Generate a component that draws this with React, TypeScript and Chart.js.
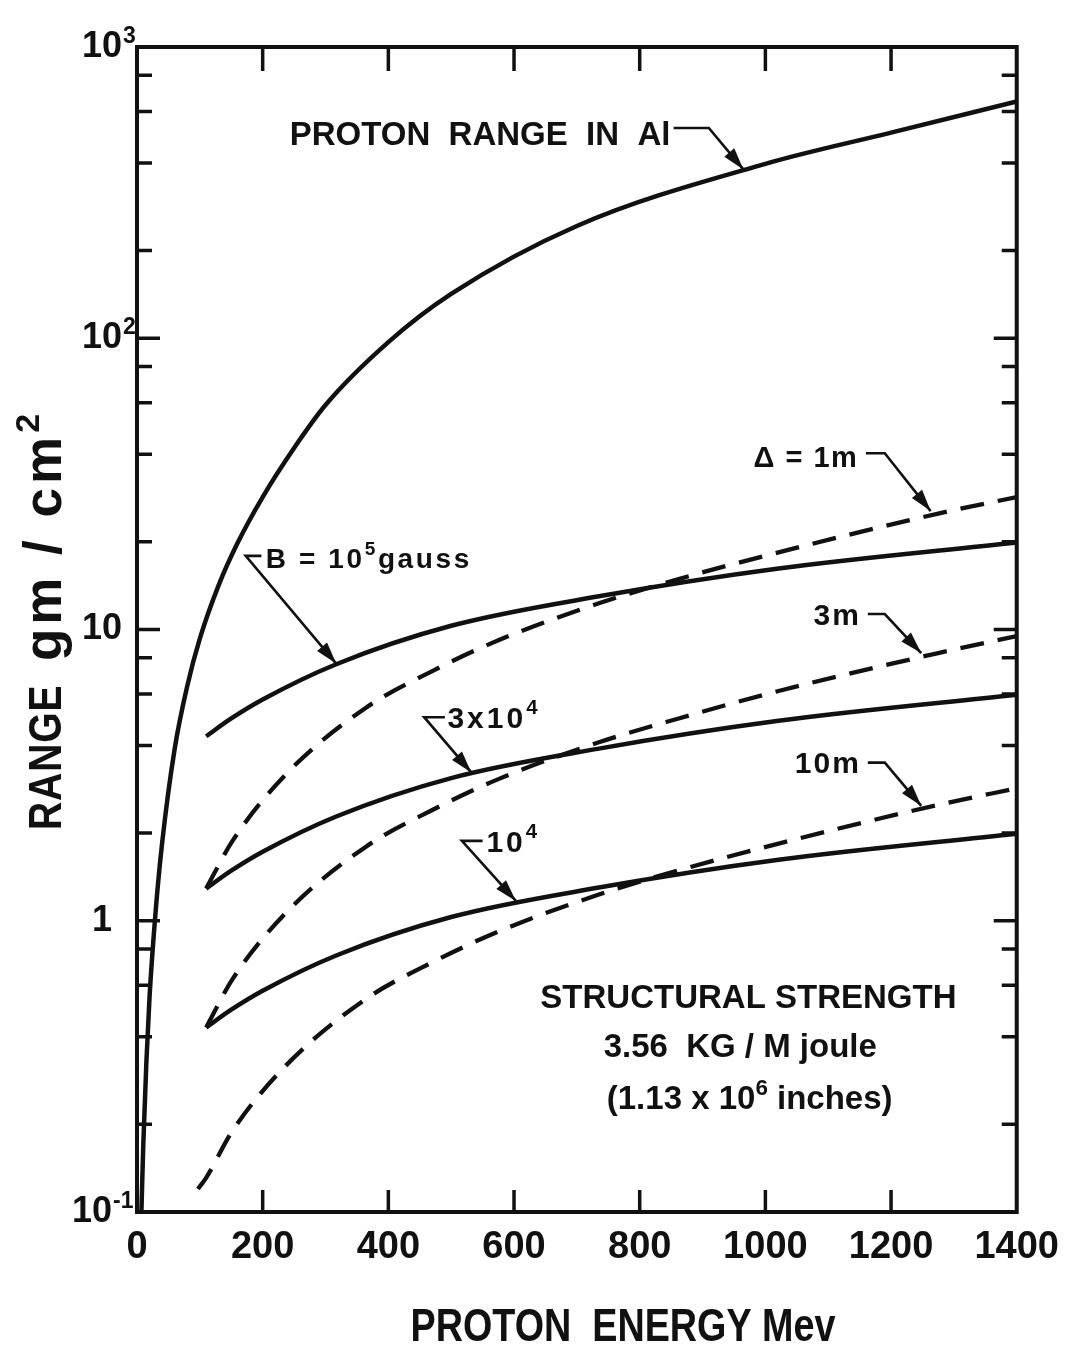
import React, { useEffect, useRef } from 'react';
import { Chart, registerables } from 'chart.js';

Chart.register(...registerables);

// ---------- data ----------
const PROTON_E = [7, 10, 15, 20, 30, 40, 60, 80, 100, 130, 160, 200, 250, 300, 400, 500, 700, 1000, 1200, 1400];
const PROTON_R = [0.1, 0.17, 0.33, 0.55, 1.1, 1.85, 3.9, 6.4, 9.3, 14.2, 19.8, 28.5, 42, 59, 97, 142, 243, 397, 508, 650];

const B_E = [110, 150, 200, 317, 500, 735, 1021, 1400];
const B_1E5_R = [4.3, 4.95, 5.75, 7.6, 10.3, 13.0, 16.2, 19.9];
const B_3E4_R = [1.29, 1.485, 1.725, 2.28, 3.09, 3.9, 4.86, 5.97];
const B_1E4_R = [0.43, 0.495, 0.575, 0.76, 1.03, 1.3, 1.62, 1.99];

const D_E = [110, 152, 238, 365, 470, 576, 735, 862, 1021, 1275, 1400];
const D_1M_R = [1.29, 1.88, 3.2, 5.4, 7.2, 9.2, 12.3, 14.9, 18.4, 25, 28.5];
const D_3M_R = [0.43, 0.63, 1.07, 1.8, 2.4, 3.07, 4.1, 4.95, 6.15, 8.3, 9.5];
const D10_E = [97, 110, 152, 238, 365, 470, 576, 735, 862, 1021, 1275, 1400];
const D_10M_R = [0.12, 0.131, 0.19, 0.32, 0.54, 0.72, 0.92, 1.23, 1.49, 1.84, 2.5, 2.85];

const X_TICKS = [0, 200, 400, 600, 800, 1000, 1200, 1400];
const Y_TICKS = [0.1, 0.2, 0.4, 0.6, 0.8, 1, 2, 4, 6, 8, 10, 20, 40, 60, 80, 100, 200, 400, 600, 800, 1000];
const Y_LABEL_VALUES = [0.1, 1, 10, 100, 1000];
const Y_LABEL_BASES = ['10 ', '1 ', '10', '10', '10'];
const Y_LABEL_EXPS = ['-1', '', '', '2', '3'];

const X_TITLE = 'PROTON  ENERGY Mev';
const Y_TITLE_A = 'RANGE';
const Y_TITLE_B = 'gm / cm';
const Y_TITLE_SUP = '2';

// ---------- styling ----------
const FONT = "'Liberation Sans', Arial, Helvetica, sans-serif";
const INK = '#111111';
const Y_TICK_PAD = 15;

type Seg = { t: string; sup?: boolean; size?: number; sp?: number; sx?: number };
type Note = {
  segs: Seg[];
  x: number;
  y: number;
  align: 'left' | 'right' | 'center';
  size: number;
  sp: number;
  path?: number[][];
};

const NOTES: Note[] = [
  { segs: [{ t: 'PROTON  RANGE  IN  Al' }], x: 243, y: 506, align: 'left', size: 33, sp: 0, path: [[854, 527], [910, 527], [965, 380]] },
  { segs: [{ t: 'Δ = 1m' }], x: 1148, y: 39.3, align: 'right', size: 29, sp: 1.5, path: [[1160, 40.3], [1190, 40.3], [1263, 25.5]] },
  { segs: [{ t: '3m' }], x: 1152, y: 11.3, align: 'right', size: 30, sp: 2, path: [[1163, 11.3], [1190, 11.3], [1248, 8.3]] },
  { segs: [{ t: '10m' }], x: 1152, y: 3.49, align: 'right', size: 30, sp: 2, path: [[1163, 3.49], [1190, 3.49], [1248, 2.48]] },
  { segs: [{ t: 'B = 10' }, { t: '5', sup: true }, { t: 'gauss' }], x: 205, y: 17.6, align: 'left', size: 28, sp: 2.6, path: [[198, 17.9], [173, 17.9], [317, 7.64]] },
  { segs: [{ t: '3x10' }, { t: '4', sup: true }], x: 494, y: 5.0, align: 'left', size: 30, sp: 3, path: [[490, 5.0], [457, 5.0], [532, 3.23]] },
  { segs: [{ t: '10' }, { t: '4', sup: true }], x: 556, y: 1.88, align: 'left', size: 30, sp: 3, path: [[550, 1.88], [517, 1.88], [603, 1.17]] },
  { segs: [{ t: 'STRUCTURAL STRENGTH' }], x: 973, y: 0.552, align: 'center', size: 33, sp: 0 },
  { segs: [{ t: '3.56  KG / M joule' }], x: 960, y: 0.375, align: 'center', size: 33, sp: 0 },
  { segs: [{ t: '(1.13 x 10' }, { t: '6', sup: true }, { t: ' inches)' }], x: 975, y: 0.247, align: 'center', size: 33, sp: 0 },
];

function drawRich(
  ctx: CanvasRenderingContext2D,
  segs: Seg[],
  x: number,
  yMid: number,
  size: number,
  align: 'left' | 'right' | 'center',
  sp: number,
  sx = 1,
  weight = 'bold',
) {
  const c: any = ctx;
  const sizeOf = (s: Seg) => (s.size ?? size) * (s.sup ? 0.68 : 1);
  const widths = segs.map((s) => {
    ctx.font = `${weight} ${sizeOf(s)}px ${FONT}`;
    c.letterSpacing = `${s.sp ?? sp}px`;
    return ctx.measureText(s.t).width * (s.sx ?? sx);
  });
  const total = widths.reduce((a, b) => a + b, 0);
  let cx = align === 'left' ? x : align === 'right' ? x - total : x - total / 2;
  const base = yMid + size * 0.358;
  ctx.textAlign = 'left';
  ctx.textBaseline = 'alphabetic';
  segs.forEach((s, i) => {
    ctx.font = `${weight} ${sizeOf(s)}px ${FONT}`;
    c.letterSpacing = `${s.sp ?? sp}px`;
    ctx.save();
    ctx.translate(cx, s.sup ? base - (s.size ?? size) * 0.45 : base);
    ctx.scale(s.sx ?? sx, 1);
    ctx.fillText(s.t, 0, 0);
    ctx.restore();
    cx += widths[i];
  });
  c.letterSpacing = '0px';
}

function arrowHead(ctx: CanvasRenderingContext2D, fx: number, fy: number, tx: number, ty: number) {
  const ang = Math.atan2(ty - fy, tx - fx);
  const L = 22;
  const W = 6.5;
  const bx = tx - L * Math.cos(ang);
  const by = ty - L * Math.sin(ang);
  ctx.beginPath();
  ctx.moveTo(tx, ty);
  ctx.lineTo(bx - W * Math.sin(ang), by + W * Math.cos(ang));
  ctx.lineTo(bx + W * Math.sin(ang), by - W * Math.cos(ang));
  ctx.closePath();
  ctx.fill();
}

const decorPlugin = {
  id: 'decor',
  beforeDraw(chart: any) {
    const { ctx, width, height } = chart;
    ctx.save();
    ctx.fillStyle = '#ffffff';
    ctx.fillRect(0, 0, width, height);
    ctx.restore();
  },
  afterDraw(chart: any) {
    const { ctx, chartArea: a } = chart;
    const xs = chart.scales.x;
    const ys = chart.scales.y;
    ctx.save();
    ctx.strokeStyle = INK;
    ctx.fillStyle = INK;
    ctx.lineCap = 'butt';

    // frame
    ctx.lineWidth = 4;
    ctx.strokeRect(a.left, a.top, a.right - a.left, a.bottom - a.top);

    // inward ticks
    ctx.lineWidth = 3.5;
    ctx.beginPath();
    X_TICKS.slice(1, -1).forEach((v) => {
      const px = xs.getPixelForValue(v);
      ctx.moveTo(px, a.bottom);
      ctx.lineTo(px, a.bottom - 22);
      ctx.moveTo(px, a.top);
      ctx.lineTo(px, a.top + 24);
    });
    Y_TICKS.slice(1, -1).forEach((v) => {
      const py = ys.getPixelForValue(v);
      const major = Y_LABEL_VALUES.includes(v);
      const len = major ? 23 : 15;
      ctx.moveTo(a.left, py);
      ctx.lineTo(a.left + len, py);
      ctx.moveTo(a.right, py);
      ctx.lineTo(a.right - len, py);
    });
    ctx.stroke();

    // exponents of the y tick labels
    Y_LABEL_VALUES.forEach((v, i) => {
      const exp = Y_LABEL_EXPS[i];
      if (!exp) return;
      const py = ys.getPixelForValue(v);
      const label = Y_LABEL_BASES[i];
      ctx.font = `bold 36px ${FONT}`;
      const trail = ctx.measureText(label).width - ctx.measureText(label.trimEnd()).width;
      const right = a.left - Y_TICK_PAD - trail;
      ctx.font = `bold 23px ${FONT}`;
      ctx.textAlign = 'left';
      ctx.textBaseline = 'alphabetic';
      ctx.fillText(exp, right + 1, py - 4);
    });

    // annotations
    NOTES.forEach((n) => {
      const tx = xs.getPixelForValue(n.x);
      const ty = ys.getPixelForValue(n.y);
      drawRich(ctx, n.segs, tx, ty, n.size, n.align, n.sp);
      if (n.path) {
        const pts = n.path.map((p) => [xs.getPixelForValue(p[0]), ys.getPixelForValue(p[1])]);
        ctx.lineWidth = 2.6;
        ctx.beginPath();
        ctx.moveTo(pts[0][0], pts[0][1]);
        for (let i = 1; i < pts.length; i++) ctx.lineTo(pts[i][0], pts[i][1]);
        ctx.stroke();
        const p1 = pts[pts.length - 2];
        const p2 = pts[pts.length - 1];
        arrowHead(ctx, p1[0], p1[1], p2[0], p2[1]);
      }
    });

    // axis titles
    drawRich(ctx, [{ t: X_TITLE }], 623, 1325, 46, 'center', 0, 0.82);
    ctx.save();
    ctx.translate(45, 830);
    ctx.rotate(-Math.PI / 2);
    drawRich(
      ctx,
      [
        { t: Y_TITLE_A + '  ', sx: 0.85, sp: 1 },
        { t: Y_TITLE_B, size: 53, sx: 1, sp: 4 },
        { t: Y_TITLE_SUP, sup: true, size: 50, sx: 1, sp: 0 },
      ],
      0,
      0,
      46,
      'left',
      0,
    );
    ctx.restore();

    ctx.restore();
  },
};

function series(xs: number[], ys: number[]) {
  return xs.map((x, i) => ({ x, y: ys[i] }));
}

export default function App() {
  const ref = useRef<HTMLCanvasElement | null>(null);

  useEffect(() => {
    if (!ref.current) return;
    const solid = { borderColor: INK, borderWidth: 4.5, pointRadius: 0, fill: false, cubicInterpolationMode: 'monotone' as const };
    const dashed = { ...solid, borderWidth: 4.3, borderDash: [24, 14] };
    const chart = new Chart(ref.current, {
      type: 'line',
      data: {
        datasets: [
          { label: 'Proton range in Al', data: series(PROTON_E, PROTON_R), ...solid },
          { label: 'B = 10^5 gauss', data: series(B_E, B_1E5_R), ...solid },
          { label: 'B = 3x10^4', data: series(B_E, B_3E4_R), ...solid },
          { label: 'B = 10^4', data: series(B_E, B_1E4_R), ...solid },
          { label: 'Δ = 1m', data: series(D_E, D_1M_R), ...dashed },
          { label: 'Δ = 3m', data: series(D_E, D_3M_R), ...dashed },
          { label: 'Δ = 10m', data: series(D10_E, D_10M_R), ...dashed },
        ],
      },
      options: {
        animation: false,
        responsive: true,
        maintainAspectRatio: false,
        layout: { padding: { left: 60, right: 54, top: 47, bottom: 0 } },
        plugins: { legend: { display: false }, tooltip: { enabled: false }, title: { display: false } },
        scales: {
          x: {
            type: 'linear',
            min: 0,
            max: 1400,
            grid: { display: false, drawTicks: false },
            border: { display: false },
            afterFit: (s: any) => {
              s.height = 136;
            },
            afterBuildTicks: (s: any) => {
              s.ticks = X_TICKS.map((v) => ({ value: v }));
            },
            ticks: {
              autoSkip: false,
              maxRotation: 0,
              padding: 13,
              color: INK,
              font: { family: FONT, size: 38, weight: 'bold' },
              callback: (v: any) => String(v),
            },
          },
          y: {
            type: 'logarithmic',
            min: 0.1,
            max: 1000,
            grid: { display: false, drawTicks: false },
            border: { display: false },
            afterFit: (s: any) => {
              s.width = 77;
            },
            afterBuildTicks: (s: any) => {
              s.ticks = Y_TICKS.map((v) => ({ value: v }));
            },
            ticks: {
              autoSkip: false,
              crossAlign: 'near',
              padding: Y_TICK_PAD,
              color: INK,
              font: { family: FONT, size: 36, weight: 'bold' },
              callback: (v: any) => {
                const i = Y_LABEL_VALUES.findIndex((m) => Math.abs(m - Number(v)) < 1e-9 * Math.max(1, m));
                return i >= 0 ? Y_LABEL_BASES[i] : '';
              },
            },
          },
        },
      },
      plugins: [decorPlugin],
    });
    return () => chart.destroy();
  }, []);

  return (
    <div style={{ position: 'absolute', left: 0, top: 0, width: 1072, height: 1348, background: '#fff' }}>
      <canvas ref={ref} />
    </div>
  );
}
